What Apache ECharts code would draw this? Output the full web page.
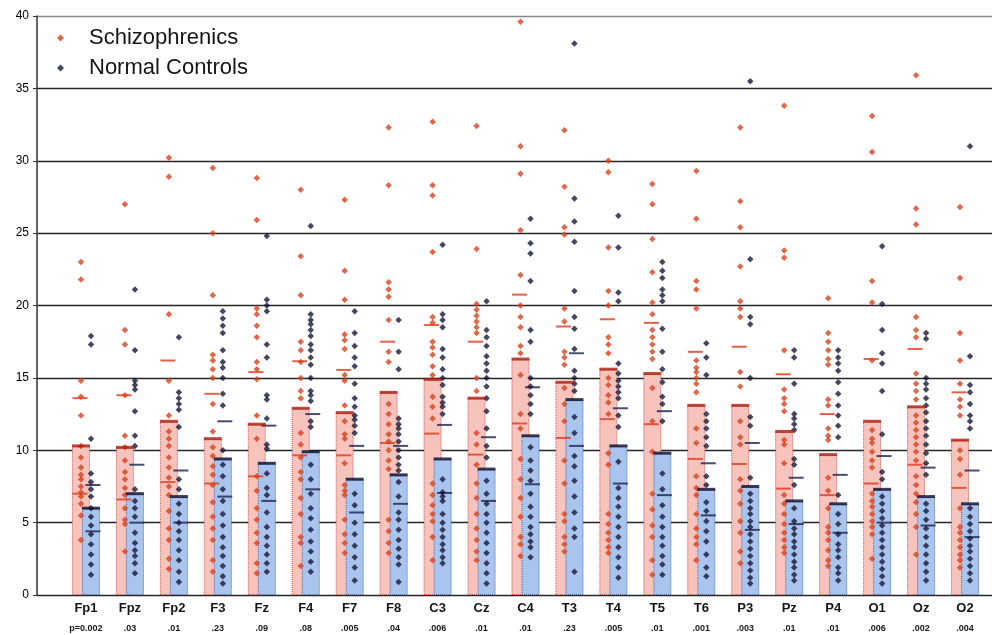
<!DOCTYPE html>
<html>
<head>
<meta charset="utf-8">
<script src="https://cdn.jsdelivr.net/npm/echarts@6/dist/echarts.min.js"></script>
<style>html,body{margin:0;padding:0;background:#fff}#c{width:992px;height:635px}</style>
</head>
<body>
<div id="c"></div>
<script>
const categories = ['Fp1','Fpz','Fp2','F3','Fz','F4','F7','F8','C3','Cz','C4','T3','T4','T5','T6','P3','Pz','P4','O1','Oz','O2'];
const pValues = ['p=0.002','.03','.01','.23','.09','.08','.005','.04','.006','.01','.01','.23','.005','.01','.001','.003','.01','.01','.006','.002','.004'];
const yTicks = [0,5,10,15,20,25,30,35,40];

const schizMean = [10.3,10.2,12.0,10.8,11.8,12.9,12.6,14.0,14.9,13.6,16.3,14.7,15.6,15.3,13.1,13.1,11.3,9.7,12.0,13.0,10.7];
const schizSD   = [3.3,3.6,4.2,3.1,3.6,3.25,2.95,3.5,3.75,3.9,4.45,3.85,3.45,3.5,3.7,4.05,3.95,2.8,4.3,4.0,3.3];
const controlMean = [6.0,7.0,6.8,9.4,9.1,9.9,8.0,8.3,9.4,8.7,11.0,13.5,10.3,9.8,7.3,7.5,6.5,6.3,7.3,6.8,6.3];
const controlSD   = [1.6,2.0,1.8,2.6,2.6,2.6,2.3,2.0,2.35,2.2,3.35,3.2,2.6,2.9,1.8,3.0,1.6,2.0,2.3,2.0,2.3];

const schizDots = [
  [23.0,21.8,14.8,13.7,12.4,10.3,9.5,8.8,8.3,8.0,7.5,7.1,6.8,6.3,5.5,3.8],
  [27.0,18.3,17.3,13.8,11.0,10.2,9.3,8.5,8.0,7.4,6.9,6.0,5.2,4.9,3.0],
  [30.2,28.9,19.4,14.8,12.4,11.3,10.8,10.3,9.5,8.8,8.1,7.5,6.9,5.8,4.6,3.8,2.5,1.8],
  [29.5,25.0,20.7,16.6,16.2,15.6,15.0,13.2,11.3,10.2,9.6,8.9,8.3,7.6,6.4,5.4,4.6,3.8,2.4,1.6],
  [28.8,25.9,19.8,19.4,18.6,17.8,16.1,15.6,14.9,12.4,10.8,8.2,7.2,6.0,5.2,4.3,3.6,2.2,1.5],
  [28.0,23.4,20.7,17.5,16.9,16.1,15.0,14.1,13.6,11.2,10.4,9.5,8.5,8.0,6.7,5.6,4.0,3.6,2.0],
  [27.3,22.4,20.4,18.0,17.6,17.0,15.2,14.8,13.1,12.0,11.1,10.8,9.1,7.6,7.2,6.9,5.2,4.2,3.6,2.9],
  [32.3,28.3,21.6,21.1,20.6,19.0,16.8,16.1,13.2,12.5,11.8,11.1,10.6,10.0,9.3,8.7,5.2,4.4,3.6,2.9],
  [32.7,28.3,27.6,23.7,19.2,18.8,17.5,17.1,16.6,15.8,15.2,13.7,13.0,12.2,7.7,6.9,6.2,5.6,5.1,4.0,2.4],
  [32.4,23.9,20.1,19.7,19.3,18.9,18.5,18.1,15.0,14.1,11.2,10.4,9.0,7.7,6.7,5.6,4.6,3.8,3.0,2.4],
  [39.6,31.0,29.1,25.2,22.1,20.0,19.2,18.5,17.2,16.7,15.2,12.5,11.5,9.4,8.0,6.7,5.4,4.0,3.5,2.7],
  [32.1,28.2,25.4,24.9,19.8,18.9,16.8,16.4,15.9,14.3,13.2,12.0,9.3,7.7,5.6,5.1,4.0,3.5,3.0],
  [30.0,29.2,24.0,21.0,20.0,17.8,17.3,16.7,15.0,14.5,13.8,13.3,12.5,9.8,9.0,5.6,4.9,4.3,3.8,3.3,2.9],
  [28.4,27.0,24.6,22.3,20.2,19.4,18.3,17.8,17.3,16.8,16.3,14.3,12.0,9.9,7.0,5.9,4.8,4.0,2.4,1.4],
  [29.3,26.0,21.7,21.1,19.8,16.2,15.7,15.4,15.0,14.6,14.0,11.5,10.5,8.2,7.4,6.9,5.6,4.6,4.0,3.5,2.4],
  [32.3,27.2,25.4,22.7,20.3,19.8,19.2,15.4,14.4,12.0,10.9,10.4,8.0,7.2,6.3,5.1,4.3,3.0,2.2],
  [33.8,23.8,23.3,16.9,14.2,13.6,13.2,12.7,10.7,10.4,9.1,6.9,6.3,5.6,4.9,4.3,3.8,3.3,2.9],
  [20.5,18.1,17.5,16.9,16.3,15.9,13.5,13.1,11.5,11.0,10.7,8.1,7.2,6.0,4.7,4.3,3.8,3.1,2.4,2.0],
  [33.1,30.6,21.7,20.2,16.2,11.4,10.8,10.5,9.9,9.3,8.8,7.0,6.5,6.1,5.6,5.1,4.7,4.2,2.5],
  [35.9,26.7,25.6,19.2,18.3,17.8,15.3,14.6,14.1,13.5,12.4,11.9,11.4,10.9,10.4,9.9,9.3,8.2,7.6,7.0,6.4,5.6,4.7,2.8],
  [26.8,21.9,18.1,16.2,14.6,13.5,13.0,12.4,10.0,9.4,8.3,6.0,4.7,4.3,3.8,3.3,2.8,2.4,1.9]
];
const controlDots = [
  [17.9,17.3,10.8,8.4,7.8,7.3,6.8,6.0,5.4,4.8,4.2,3.5,2.8,2.1,1.4],
  [21.1,16.9,14.8,14.5,14.2,12.7,11.0,10.3,7.3,6.5,6.0,5.4,4.3,3.6,3.1,2.7,2.2,1.5],
  [17.8,14.0,13.6,13.2,12.8,11.6,8.0,7.3,6.3,5.6,5.0,4.4,3.8,3.1,2.4,1.6,0.9],
  [19.6,19.1,18.6,18.1,16.9,16.1,15.7,15.0,13.9,13.1,10.0,9.0,8.2,7.3,6.5,5.6,4.8,4.0,3.3,2.7,2.0,1.3,0.8],
  [24.8,20.4,20.0,19.6,17.3,16.4,13.8,13.5,12.2,10.4,10.1,8.4,7.4,6.9,5.7,4.7,4.0,3.4,2.8,2.2,1.6],
  [25.5,19.4,19.0,18.7,18.3,17.9,17.3,16.9,16.4,15.9,15.0,14.1,13.8,13.4,12.0,11.6,9.0,8.0,7.0,6.0,5.3,4.5,3.7,3.0,2.3,1.6],
  [19.6,18.1,17.2,16.4,15.8,14.6,13.6,13.0,12.4,12.1,11.7,11.2,7.0,6.2,5.0,4.2,3.4,2.6,1.9,1.0],
  [19.0,16.8,15.6,12.2,11.8,11.5,11.1,10.6,10.0,9.5,9.0,8.6,7.8,6.8,5.7,5.2,4.5,3.8,3.2,2.6,2.1,0.9],
  [24.2,19.4,19.0,18.5,17.0,16.4,15.6,15.0,14.5,13.7,13.3,13.0,12.5,8.0,7.1,6.8,6.5,5.6,5.0,4.5,4.0,3.5,3.1,2.6,2.2],
  [20.3,18.3,17.8,17.2,16.5,16.0,15.5,15.0,14.4,13.6,12.7,11.5,10.3,9.5,7.9,7.0,6.3,5.6,5.0,4.3,3.6,2.9,2.2,1.5,0.8],
  [26.0,24.3,23.6,21.7,18.3,17.5,15.0,14.4,13.8,13.2,12.5,10.2,9.3,8.6,7.9,7.0,6.1,5.4,4.7,4.2,3.7,3.3,2.6],
  [38.1,27.4,25.8,24.4,21.0,19.2,18.4,17.0,15.5,15.0,14.6,14.1,12.3,11.2,9.6,8.9,7.9,6.8,5.7,4.6,4.0,1.6],
  [26.2,24.0,20.9,20.3,16.0,15.3,14.8,14.4,14.0,13.6,12.4,11.6,9.2,7.4,6.7,6.1,5.4,4.7,4.0,3.3,2.6,1.9,1.2],
  [23.0,22.4,21.9,21.1,20.7,20.3,18.4,16.8,15.6,14.7,13.7,13.2,12.0,8.4,7.3,6.2,5.4,4.7,4.0,3.4,2.7,2.1,1.4],
  [17.4,16.4,15.2,12.5,12.0,11.5,10.9,10.3,8.2,7.6,6.4,5.8,5.1,4.4,3.7,2.8,1.9,1.3],
  [35.5,23.2,19.2,18.7,15.0,12.3,11.7,8.1,7.0,6.5,6.0,5.6,5.1,4.7,4.2,3.7,3.2,2.7,2.2,1.7,1.2,0.8],
  [16.9,16.4,14.6,12.5,12.2,11.8,11.4,9.4,9.0,7.6,6.0,5.1,4.6,4.2,3.7,3.3,2.8,2.3,1.9,1.4,1.0],
  [16.9,16.4,16.0,15.5,14.7,13.9,13.1,12.4,11.7,10.9,6.9,5.6,4.9,4.2,3.5,3.1,2.6,1.9,1.5,1.0],
  [24.1,20.1,18.3,16.7,16.0,14.1,11.1,8.5,8.0,6.8,6.3,5.8,5.3,4.8,4.3,3.8,3.3,2.8,2.3,1.8,1.3,0.8],
  [18.1,17.7,15.0,14.6,14.2,13.6,13.1,12.6,12.0,11.5,11.0,10.4,9.8,9.1,8.3,6.3,5.8,5.2,4.6,4.0,3.4,2.8,2.2,1.6,1.0],
  [31.0,16.5,14.5,14.0,13.2,12.4,12.0,11.5,6.0,5.4,4.9,4.4,3.9,3.4,3.0,2.5,2.0,1.5,1.0]
];

const FONT = 'Liberation Sans, Arial, sans-serif';
const flatDots = arr => arr.flatMap((vals, i) => vals.map(v => [i, v]));
const dashPts = (mean, sd) => mean.flatMap((m, i) => [[i, +(m + sd[i]).toFixed(2)], [i, +(m - sd[i]).toFixed(2)]]);

const chart = echarts.init(document.getElementById('c'), null, {renderer: 'canvas'});
chart.setOption({
  animation: false,
  backgroundColor: '#ffffff',
  legend: {
    orient: 'vertical', left: 52, top: 22, itemGap: 8,
    itemWidth: 7, itemHeight: 7, icon: 'diamond',
    data: ['Schizophrenics', 'Normal Controls'],
    textStyle: {fontFamily: FONT, fontSize: 22, color: '#151515', padding: [0, 0, 0, 20]}
  },
  grid: [
    {left: 37, right: 0, top: 16, bottom: 40},
    {left: 64, right: 5, top: 16, bottom: 40}
  ],
  xAxis: [
    {gridIndex: 0, type: 'value', min: 0, max: 1, show: false},
    {gridIndex: 1, type: 'category', data: categories,
     axisLine: {show: false}, axisTick: {show: false},
     axisLabel: {
       interval: 0, margin: 3,
       formatter: (v, i) => '{a|' + v + '}\n{b|' + pValues[i] + '}',
       rich: {
         a: {fontFamily: FONT, fontSize: 13, fontWeight: 'bold', color: '#161616', lineHeight: 20},
         b: {fontFamily: FONT, fontSize: 9, fontWeight: 'bold', color: '#161616', lineHeight: 22}
       }
     }}
  ],
  yAxis: [
    {gridIndex: 0, type: 'value', min: 0, max: 40, interval: 5,
     axisLine: {show: true, lineStyle: {color: '#3a3040', width: 1.5}},
     axisTick: {show: true, length: 4, lineStyle: {color: '#3a3040'}},
     axisLabel: {fontFamily: FONT, fontSize: 12, color: '#000', margin: 8,
       formatter: v => yTicks.includes(v) ? String(v) : ''},
     splitLine: {show: true, lineStyle: {
       color: ['#262626','#262626','#262626','#262626','#262626','#262626','#262626','#262626','#8a8a8a'],
       width: 1.4}}},
    {gridIndex: 1, type: 'value', min: 0, max: 40, show: false}
  ],
  series: [
    {type: 'bar', name: 'S mean', xAxisIndex: 1, yAxisIndex: 1, data: schizMean,
     barWidth: 18, barGap: '-44%', z: 2,
     itemStyle: {color: '#f7c4bd', borderColor: '#c0584a', borderWidth: 1, borderType: 'dotted'}},
    {type: 'bar', name: 'N mean', xAxisIndex: 1, yAxisIndex: 1, data: controlMean,
     barWidth: 18, z: 2,
     itemStyle: {color: '#a9c5ee', borderColor: '#4a64a0', borderWidth: 1, borderType: 'dotted'}},
    {type: 'scatter', name: 'S sd', xAxisIndex: 1, yAxisIndex: 1, data: dashPts(schizMean, schizSD),
     symbol: 'rect', symbolSize: [15, 2], symbolOffset: [-6, 0], z: 3, silent: true,
     itemStyle: {color: '#e0381c'}},
    {type: 'scatter', name: 'N sd', xAxisIndex: 1, yAxisIndex: 1, data: dashPts(controlMean, controlSD),
     symbol: 'rect', symbolSize: [15, 2], symbolOffset: [7, 0], z: 3, silent: true,
     itemStyle: {color: '#1c2050'}},
    {type: 'scatter', name: 'Schizophrenics', xAxisIndex: 1, yAxisIndex: 1, data: flatDots(schizDots),
     symbol: 'diamond', symbolSize: 6.5, symbolOffset: [-5, 0], z: 4,
     itemStyle: {color: '#d4421e'}},
    {type: 'scatter', name: 'Normal Controls', xAxisIndex: 1, yAxisIndex: 1, data: flatDots(controlDots),
     symbol: 'diamond', symbolSize: 6.5, symbolOffset: [5, 0], z: 4,
     itemStyle: {color: '#17183a'}},
    {type: 'scatter', name: 'S cap', xAxisIndex: 1, yAxisIndex: 1, data: schizMean.map((v, i) => [i, v]),
     symbol: 'rect', symbolSize: [18, 3], symbolOffset: [-5, 0], z: 5, silent: true,
     itemStyle: {color: '#b01c0c'}},
    {type: 'scatter', name: 'N cap', xAxisIndex: 1, yAxisIndex: 1, data: controlMean.map((v, i) => [i, v]),
     symbol: 'rect', symbolSize: [18, 3], symbolOffset: [5, 0], z: 5, silent: true,
     itemStyle: {color: '#0c0c2c'}}
  ]
});
</script>
</body>
</html>
